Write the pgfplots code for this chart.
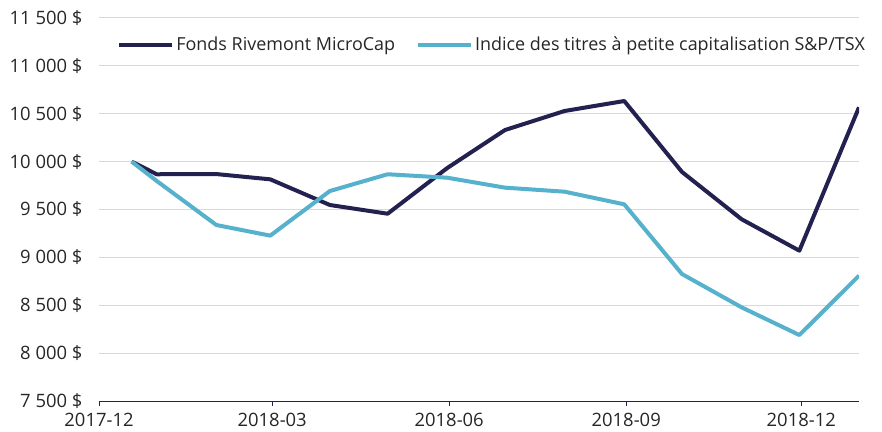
\documentclass[border=0pt]{standalone}
\usepackage{pgfplots}
\pgfplotsset{compat=1.18}
\usepackage{fontspec}
\setmainfont{Open Sans}
\definecolor{navy}{HTML}{23214F}
\definecolor{sky}{HTML}{56B1CD}
\definecolor{gridc}{HTML}{D9D9D9}
\definecolor{txt}{HTML}{262626}
\begin{document}
\begin{tikzpicture}
\useasboundingbox (-99bp,-31bp) rectangle (783bp,401bp);
\begin{axis}[
  at={(0,0)}, anchor=south west,
  scale only axis, width=760bp, height=383bp,
  xmin=0, xmax=395, ymin=7500, ymax=11500,
  scaled y ticks=false, scaled x ticks=false,
  axis y line*=left, axis x line*=bottom,
  y axis line style={draw=none},
  x axis line style={navy, line width=0.8pt},
  xtick={0,90,182,274,365},
  xticklabels={2017-12,2018-03,2018-06,2018-09,2018-12},
  ytick={7500,8000,8500,9000,9500,10000,10500,11000,11500},
  yticklabels={7 500 \$,8 000 \$,8 500 \$,9 000 \$,9 500 \$,10 000 \$,10 500 \$,11 000 \$,11 500 \$},
  ymajorgrids, grid style={gridc, line width=1bp},
  ytick style={draw=none},
  xtick style={navy, line width=0.8pt},
  tick align=outside, major tick length=5bp,
  ticklabel style={font=\fontsize{18.5}{20}\selectfont, text=txt},
  yticklabel style={xshift=-8bp},
  xticklabel style={yshift=-3.5bp},
  legend style={at={(0.02,0.93)}, anchor=west, draw=none, fill=none,
    font=\fontsize{18}{20}\selectfont, text=txt,
    /tikz/every even column/.append style={column sep=19bp}},
  legend columns=2,
  legend image code/.code={\draw[#1, line width=4bp] (0bp,0bp) -- (53bp,0bp);},
  legend cell align=left,
]
\addplot[navy, line width=4bp, line join=round] coordinates {
 (17,10000) (30,9868) (61,9870) (89,9815) (120,9547) (150,9456) (181,9933)
 (211,10330) (242,10529) (273,10633) (303,9892) (334,9398) (364,9070) (395,10567)};
\addlegendentry{Fonds Rivemont MicroCap}
\addplot[sky, line width=4bp, line join=round] coordinates {
 (17,10000) (30,9798) (61,9338) (89,9227) (120,9693) (150,9868) (181,9832)
 (211,9728) (242,9686) (273,9554) (303,8826) (334,8478) (364,8189) (395,8809)};
\addlegendentry{Indice des titres à petite capitalisation S\&P/TSX}
\end{axis}
\end{tikzpicture}
\end{document}
